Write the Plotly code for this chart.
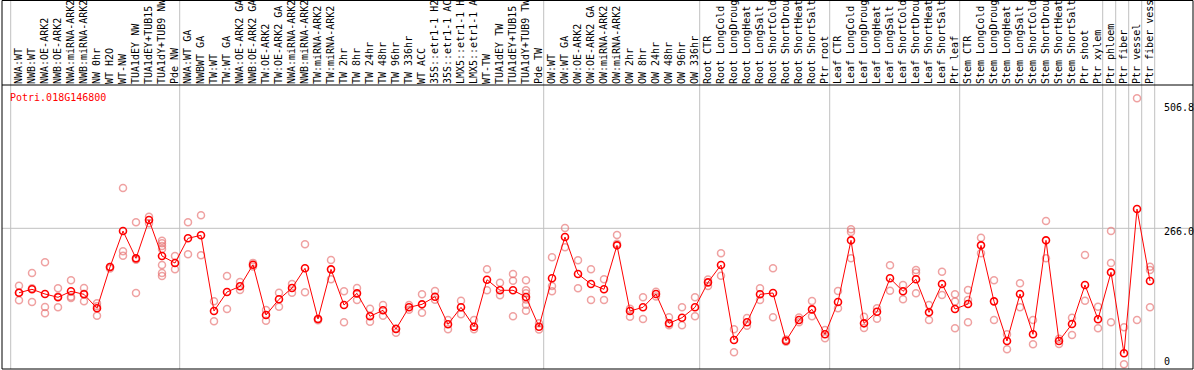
import plotly.graph_objects as go

title = "Potri.018G146800"

labels = [
    "NWA:WT", "NWB:WT", "NWA:OE-ARK2", "NWB:OE-ARK2", "NWA:miRNA-ARK2", "NWB:miRNA-ARK2",
    "NW 0hr", "WT H2O", "WT-NW", "TUA1dEY NW", "TUA1dEY+TUB15", "TUA1dY+TUB9 NW", "Pde NW",
    "NWA:WT GA", "NWBWT GA", "TW:WT", "TW:WT GA", "NWA:OE-ARK2 GA", "NWB:OE-ARK2 GA",
    "TW:OE-ARK2", "TW:OE-ARK2 GA", "NWA:miRNA-ARK2", "NWB:miRNA-ARK2", "TW:miRNA-ARK2",
    "TW:miRNA-ARK2", "TW 2hr", "TW 8hr", "TW 24hr", "TW 48hr", "TW 96hr", "TW 336hr",
    "WT ACC", "35S::etr1-1 H2", "35S::etr1-1 AC", "LMX5::etr1-1 H", "LMX5::etr1-1 A",
    "WT-TW", "TUA1dEY TW", "TUA1dEY+TUB15", "TUA1dY+TUB9 TW", "Pde TW",
    "OW:WT", "OW:WT GA", "OW:OE-ARK2", "OW:OE-ARK2 GA", "OW:miRNA-ARK2", "OW:miRNA-ARK2",
    "OW 2hr", "OW 8hr", "OW 24hr", "OW 48hr", "OW 96hr", "OW 336hr",
    "Root CTR", "Root LongCold", "Root LongDroug", "Root LongHeat", "Root LongSalt",
    "Root ShortCold", "Root ShortDrou", "Root ShortHeat", "Root ShortSalt", "Ptr root",
    "Leaf CTR", "Leaf LongCold", "Leaf LongDroug", "Leaf LongHeat", "Leaf LongSalt",
    "Leaf ShortCold", "Leaf ShortDrou", "Leaf ShortHeat", "Leaf ShortSalt", "Ptr leaf",
    "Stem CTR", "Stem LongCold", "Stem LongDroug", "Stem LongHeat", "Stem LongSalt",
    "Stem ShortCold", "Stem ShortDrou", "Stem ShortHeat", "Stem ShortSalt", "Ptr shoot",
    "Ptr xylem", "Ptr phloem", "Ptr fiber", "Ptr vessel", "Ptr fiber vess",
]

group_sizes = [13, 28, 12, 10, 10, 11, 1, 1, 1, 1]

means = [
    141.2, 147.8, 138.7, 132.3, 143.9, 138.1, 111.0, 191.0, 260.7, 207.8, 282.0, 212.3, 198.7,
    246.6, 252.4, 105.8, 142.6, 153.6, 195.4, 98.0, 128.4, 150.3, 188.5, 90.3, 186.5, 117.4,
    140.0, 95.5, 107.1, 70.9, 112.9, 118.7, 133.5, 80.0, 112.9, 75.3, 166.4, 145.9, 145.9,
    132.9, 75.3,
    169.1, 249.1, 177.4, 158.0, 147.8, 233.0, 105.8, 112.9, 138.7, 81.9, 92.8, 112.9,
    161.3, 194.9, 49.6, 83.9, 138.1, 140.6, 48.2, 88.3, 109.0, 60.6,
    123.2, 242.7, 81.9, 104.4, 169.1, 143.9, 167.2, 103.2, 158.0, 109.6,
    119.3, 233.0, 124.5, 47.6, 138.7, 60.6, 242.7, 47.6, 80.6, 156.1, 89.7,
    180.7, 23.8, 303.3, 163.9,
]

replicates = [
    [154.8, 126.5, 141.2], [179.4, 150.0, 123.2], [200.1, 113.5, 101.3], [149.7, 112.9, 134.0],
    [165.2, 133.5, 131.0], [150.3, 124.5, 139.0], [120.7, 96.7, 115.0], [191.0, 188.0],
    [344.0, 221.4, 212.9], [277.6, 140.6, 205.0], [288.4, 276.0],
    [242.0, 237.0, 231.7, 226.0, 194.9, 179.4, 173.6], [212.3, 186.5],
    [277.6, 215.6], [291.1, 213.6], [124.5, 85.8], [173.6, 109.6], [161.9, 146.4],
    [199.0, 192.0], [107.7, 87.0], [141.2, 114.1], [158.0, 141.2], [235.0, 142.0],
    [90.3, 88.0], [204.5, 167.2], [143.9, 83.9], [150.3, 127.0], [110.2, 85.0],
    [117.4, 96.7], [63.7, 72.0], [117.4, 108.0], [138.1, 102.5], [144.5, 127.5],
    [88.3, 70.3], [125.7, 99.4], [88.3, 70.3], [186.5, 145.9], [160.6, 136.2],
    [177.4, 164.5, 95.5], [165.2, 146.0, 140.0, 128.0, 118.0, 106.3], [82.0, 70.0],
    [209.8, 143.9, 154.0], [266.5, 229.1], [204.0, 149.7], [186.5, 127.0], [167.2, 127.0],
    [253.0, 236.0], [110.0, 94.7], [132.3, 90.3], [143.0, 134.0], [93.6, 78.0],
    [112.9, 78.1], [132.3, 95.5],
    [167.0, 154.0], [217.5, 174.2], [70.3, 25.8], [92.0, 77.0], [149.7, 127.0],
    [188.5, 93.6], [50.5, 46.0], [93.0, 84.0], [125.1, 95.5], [69.0, 52.9],
    [144.5, 111.0], [264.0, 259.0, 207.8], [94.7, 72.8], [111.0, 90.8], [194.3, 145.1],
    [156.1, 128.4], [185.2, 180.0, 140.0], [117.4, 88.3], [181.9, 136.8], [138.1, 124.0, 72.2],
    [146.4, 127.0, 83.9], [247.7, 217.5], [165.2, 88.3], [60.6, 31.6], [159.4, 112.9],
    [88.3, 41.3], [280.1, 207.8], [52.0, 41.8], [92.8, 59.3], [214.2, 125.7], [114.1, 72.2],
    [260.7, 198.7, 83.9], [74.2, 2.5], [517.8, 88.3], [191.6, 185.2, 112.9],
]

y_tick_values = [0, 266.0, 506.8]
y_tick_text = ["0", "266.0", "506.8"]

# ---- figure ----
W, H = 1194, 370
ML, MR, MT, MB = 2, 1, 85, 1
PW = W - ML - MR
PH = H - MT - MB
step = 13.0
first_px = 19.0
x0 = -(first_px - ML) / step
x1 = x0 + PW / step
units_per_px = 266.0 / 137.3
y_lo = -3.4 * units_per_px
y_hi = y_lo + PH * units_per_px
mono = "DejaVu Sans Mono"

idx = list(range(len(labels)))
rx, ry = [], []
for i, vals in enumerate(replicates):
    for v in vals:
        rx.append(i)
        ry.append(v)

fig = go.Figure()
fig.add_trace(go.Scatter(
    x=rx, y=ry, mode="markers", hoverinfo="skip",
    marker=dict(symbol="circle-open", size=7, color="rgba(230,110,110,0.65)",
                line=dict(width=1.5, color="rgba(230,110,110,0.65)")),
    showlegend=False,
))
fig.add_trace(go.Scatter(
    x=idx, y=means, mode="lines+markers",
    line=dict(color="#ff0000", width=1),
    marker=dict(symbol="circle-open", size=7, color="#ff0000",
                line=dict(width=1.6, color="#ff0000")),
    showlegend=False,
))

top_paper = 1 + (MT - 0.5) / PH
shapes = []
k = 0
bounds = [0]
for g in group_sizes:
    k += g
    bounds.append(k)
for b in bounds:
    xb = b - 8.3 / step
    shapes.append(dict(type="line", xref="x", yref="paper", x0=xb, x1=xb, y0=0, y1=top_paper,
                       line=dict(color="#c0c0c0", width=1), layer="below"))
shapes.append(dict(type="line", xref="paper", yref="y", x0=0, x1=1, y0=y_tick_values[1],
                   y1=y_tick_values[1], line=dict(color="#c0c0c0", width=1), layer="below"))
shapes.append(dict(type="rect", xref="paper", yref="paper", x0=0, x1=1, y0=0, y1=top_paper,
                   line=dict(color="black", width=1)))
shapes.append(dict(type="line", xref="paper", yref="paper", x0=0, x1=1, y0=1, y1=1,
                   line=dict(color="black", width=1)))

annotations = [dict(
    text=title, xref="paper", yref="paper", x=(7.5 - ML) / PW, y=1 - 5 / PH,
    xanchor="left", yanchor="top", showarrow=False,
    font=dict(family=mono, size=10, color="#ff0000"),
)]
label_x = (1162 - ML) / PW
for v, t in zip(y_tick_values, y_tick_text):
    annotations.append(dict(
        text=t, xref="paper", yref="y", x=label_x, y=v,
        xanchor="left", yanchor=("bottom" if v == 0 else "top"),
        yshift=(-3 if v == 0 else 4), showarrow=False,
        font=dict(family=mono, size=10, color="black"),
    ))

fig.update_layout(
    width=W, height=H, template="none",
    margin=dict(l=ML, r=MR, t=MT, b=MB, pad=0),
    paper_bgcolor="white", plot_bgcolor="white",
    shapes=shapes, annotations=annotations,
    font=dict(family=mono, size=10, color="black"),
    xaxis=dict(
        range=[x0, x1], side="top", tickmode="array", tickvals=idx, ticktext=labels,
        tickangle=-90, ticks="", showgrid=False, zeroline=False, showline=False,
        automargin=False, tickfont=dict(family=mono, size=10, color="black"),
        ticklabelstandoff=0,
    ),
    yaxis=dict(
        range=[y_lo, y_hi], showticklabels=False, ticks="", showgrid=False,
        zeroline=False, showline=False, automargin=False,
    ),
)

fig.write_html("out.html", config={"displayModeBar": False},
               post_script="document.body.style.margin='0px';")
